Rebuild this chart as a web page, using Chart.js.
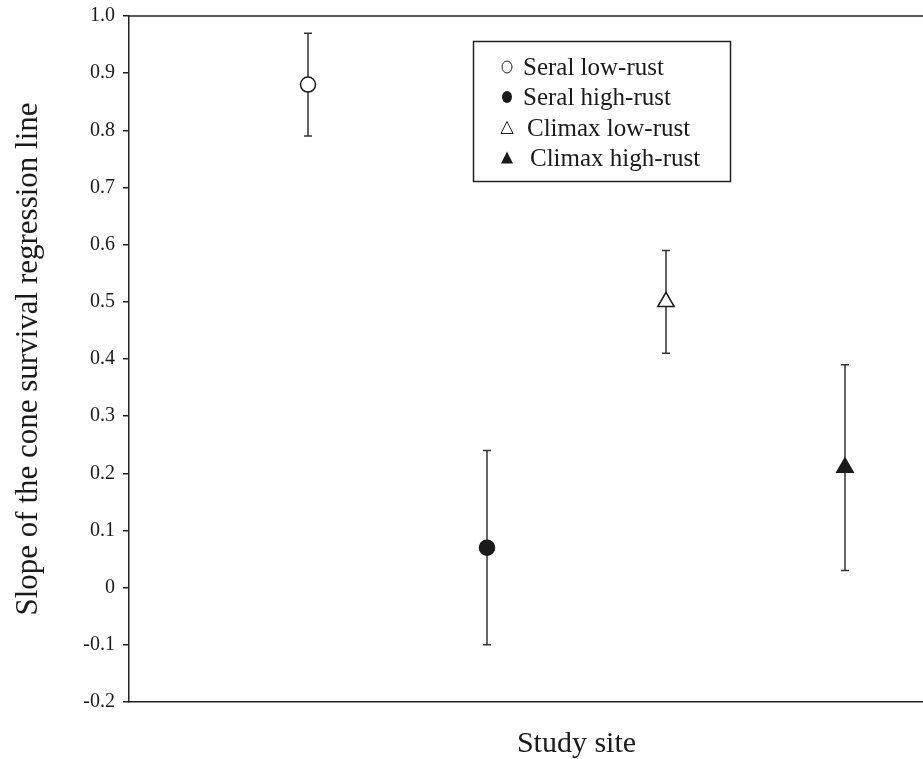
<!DOCTYPE html>
<html>
<head>
<meta charset="utf-8">
<script src="https://cdn.jsdelivr.net/npm/chart.js@4"></script>
<style>
  html, body { margin: 0; padding: 0; overflow: hidden; background: #fff; }
  #wrap { width: 1030px; height: 759px; }
</style>
</head>
<body>
<div id="wrap"><canvas id="slopeChart" width="1030" height="759"></canvas></div>
<script>
// data
const sites = ['Seral low-rust', 'Seral high-rust', 'Climax low-rust', 'Climax high-rust'];
const sitePos = [1, 2, 3, 4];
const slopes = [0.88, 0.07, 0.50, 0.21];
const errLow = [0.79, -0.10, 0.41, 0.03];
const errHigh = [0.97, 0.24, 0.59, 0.39];
const markerStyle = ['circle', 'circle', 'triangle', 'triangle'];
const markerFill = ['#ffffff', '#1a1a1a', '#ffffff', '#1a1a1a'];
const yTicks = [-0.2, -0.1, 0, 0.1, 0.2, 0.3, 0.4, 0.5, 0.6, 0.7, 0.8, 0.9, 1.0];

const serif = '"Liberation Serif", "DejaVu Serif", serif';

// error bars, drawn under the markers
const errorBars = {
    id: 'errorBars',
    beforeDatasetsDraw(chart) {
        const ctx = chart.ctx;
        const xs = chart.scales.x, ys = chart.scales.y;
        ctx.save();
        ctx.strokeStyle = '#333';
        ctx.lineWidth = 1.5;
        sitePos.forEach((p, i) => {
            const x = xs.getPixelForValue(p);
            const yl = ys.getPixelForValue(errLow[i]);
            const yh = ys.getPixelForValue(errHigh[i]);
            ctx.beginPath();
            ctx.moveTo(x, yl); ctx.lineTo(x, yh);
            ctx.moveTo(x - 4, yl); ctx.lineTo(x + 4, yl);
            ctx.moveTo(x - 4, yh); ctx.lineTo(x + 4, yh);
            ctx.stroke();
        });
        ctx.restore();
    }
};

// top frame line + boxed legend
const frameAndLegend = {
    id: 'frameAndLegend',
    afterDraw(chart) {
        const ctx = chart.ctx;
        const a = chart.chartArea;
        ctx.save();
        ctx.strokeStyle = '#222';
        ctx.lineWidth = 1.5;
        ctx.beginPath();
        ctx.moveTo(a.left, a.top); ctx.lineTo(a.right, a.top);
        ctx.stroke();

        // legend box
        ctx.strokeRect(473.5, 41.5, 257, 140);
        ctx.font = '25px ' + serif;
        ctx.fillStyle = '#1a1a1a';
        ctx.textBaseline = 'middle';
        const rowY = [67, 97, 128, 158];
        const textX = [523, 523, 527, 530];
        sites.forEach((s, i) => {
            const mx = 507, my = rowY[i];
            ctx.beginPath();
            if (markerStyle[i] === 'circle') {
                ctx.ellipse(mx, my, 5, 6, 0, 0, Math.PI * 2);
            } else {
                ctx.moveTo(mx, my - 6.5);
                ctx.lineTo(mx + 6, my + 5.5);
                ctx.lineTo(mx - 6, my + 5.5);
                ctx.closePath();
            }
            if (markerFill[i] === '#ffffff') {
                ctx.lineWidth = 1;
                ctx.stroke();
            } else {
                ctx.fill();
            }
            ctx.fillText(s, textX[i], my + 1);
        });
        ctx.restore();
    }
};

new Chart(document.getElementById('slopeChart'), {
    type: 'scatter',
    data: {
        datasets: sites.map((s, i) => ({
            label: s,
            data: [{ x: sitePos[i], y: slopes[i] }],
            pointStyle: markerStyle[i],
            pointRadius: markerStyle[i] === 'circle' ? 7.5 : 9.5,
            backgroundColor: markerFill[i],
            borderColor: '#1a1a1a',
            borderWidth: 1.5
        }))
    },
    options: {
        responsive: false,
        animation: false,
        layout: { autoPadding: false, padding: { top: 16, right: 6, left: 0, bottom: 0 } },
        plugins: { legend: { display: false }, tooltip: { enabled: false } },
        scales: {
            x: {
                type: 'linear', min: 0, max: 5,
                ticks: { display: false },
                grid: { display: false },
                border: { display: true, color: '#222', width: 1.5 },
                title: { display: true, text: 'Study site', color: '#1a1a1a',
                         font: { family: serif, size: 30, lineHeight: 1 }, padding: { top: 0, bottom: 0 } },
                afterFit(scale) { scale.height = 57; }
            },
            y: {
                min: -0.2, max: 1.0,
                afterBuildTicks(scale) { scale.ticks = yTicks.map(v => ({ value: v })); },
                ticks: {
                    color: '#1a1a1a', padding: 8,
                    font: { family: serif, size: 20 },
                    callback: v => (Math.abs(v) < 1e-9 ? '0' : (v === 1 ? '1.0' : v.toFixed(1)))
                },
                grid: { drawOnChartArea: false, tickLength: 6, color: '#222', lineWidth: 1.5 },
                border: { display: true, color: '#222', width: 1.5 },
                title: { display: true, text: 'Slope of the cone survival regression line', color: '#1a1a1a',
                         font: { family: serif, size: 31 }, padding: { top: 10, bottom: 0 } },
                afterFit(scale) {
                    scale.width = 129;
                    scale.paddingTop = 0;
                    scale.paddingBottom = 0;
                }
            }
        }
    },
    plugins: [errorBars, frameAndLegend]
});
</script>
</body>
</html>
